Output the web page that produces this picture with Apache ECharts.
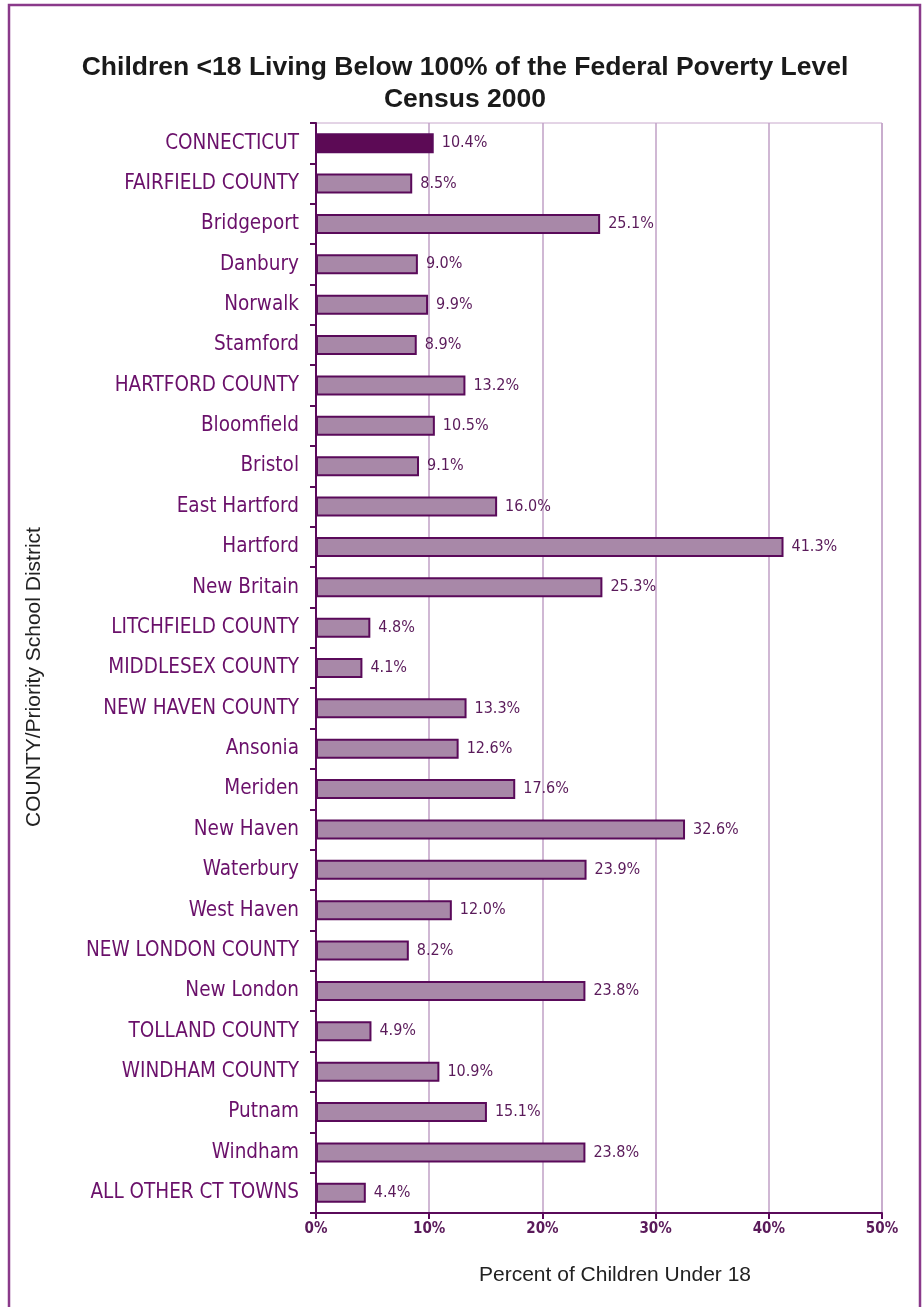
<!DOCTYPE html>
<html>
<head>
<meta charset="utf-8">
<script src="https://cdn.jsdelivr.net/npm/echarts@6/dist/echarts.min.js"></script>
<style>html,body{margin:0;padding:0;background:#fff;}#c{width:923px;height:1307px;}</style>
</head>
<body>
<div id="c"></div>
<script>
const categories = ["CONNECTICUT","FAIRFIELD COUNTY","Bridgeport","Danbury","Norwalk","Stamford","HARTFORD COUNTY","Bloomfield","Bristol","East Hartford","Hartford","New Britain","LITCHFIELD COUNTY","MIDDLESEX COUNTY","NEW HAVEN COUNTY","Ansonia","Meriden","New Haven","Waterbury","West Haven","NEW LONDON COUNTY","New London","TOLLAND COUNTY","WINDHAM COUNTY","Putnam","Windham","ALL OTHER CT TOWNS"];
const values = [10.4,8.5,25.1,9.0,9.9,8.9,13.2,10.5,9.1,16.0,41.3,25.3,4.8,4.1,13.3,12.6,17.6,32.6,23.9,12.0,8.2,23.8,4.9,10.9,15.1,23.8,4.4];
const xTicks = [0,10,20,30,40,50];
const highlight = "CONNECTICUT";

const labelFont = '"DejaVu Sans Condensed", "Liberation Sans Narrow", "Liberation Sans", sans-serif';
const textFont = '"Liberation Sans", Arial, sans-serif';
const chart = echarts.init(document.getElementById('c'), null, {renderer:'canvas'});
chart.setOption({
  animation:false,
  backgroundColor:'#fff',
  title:{
    text:'Children <18 Living Below 100% of the Federal Poverty Level\nCensus 2000',
    left:460, textAlign:'center', top:47,
    textStyle:{fontFamily:textFont, fontWeight:'bold', fontSize:26.5, lineHeight:32, color:'#1a1a1a'}
  },
  grid:{left:316, right:41, top:123, bottom:94, show:true, borderColor:'#c8a8cc', borderWidth:1},
  xAxis:{
    type:'value', min:xTicks[0], max:xTicks[xTicks.length-1], interval:10,
    axisLine:{show:true, lineStyle:{color:'#5a0a5a', width:2}},
    axisTick:{show:true, length:6, lineStyle:{color:'#5a0a5a', width:2}},
    axisLabel:{formatter:'{value}%', fontFamily:labelFont, fontSize:15, fontWeight:'bold', color:'#5a1a5a', margin:9},
    splitLine:{show:true, lineStyle:{color:'#c0a0c6', width:1.5}}
  },
  yAxis:{
    type:'category', data:categories, inverse:true,
    axisLine:{show:true, lineStyle:{color:'#5a0a5a', width:2}},
    axisTick:{show:true, length:6, lineStyle:{color:'#5a0a5a', width:2}},
    axisLabel:{fontFamily:labelFont, fontSize:20.5, color:'#6a106a', margin:17},
    splitLine:{show:false}
  },
  series:[{
    type:'bar', barWidth:20,
    data:values.map((v,i)=>({value:v, itemStyle: categories[i]===highlight ? {color:'#5c0a55', borderColor:'#5a0a5a', borderWidth:2} : {color:'#a888a8', borderColor:'#5a0a5a', borderWidth:2}})),
    label:{show:true, position:'right', distance:8, formatter:p=>p.value.toFixed(1)+'%', fontFamily:labelFont, fontSize:16, color:'#5a1a5a'}
  }],
  graphic:[
    {type:'rect', shape:{x:9, y:5, width:911, height:1320}, style:{fill:'none', stroke:'#8a3a8a', lineWidth:2.5}, silent:true},
    {type:'text', x:34, y:677, rotation:Math.PI/2, style:{text:'COUNTY/Priority School District', fontFamily:textFont, fontSize:21, fill:'#222', align:'center', verticalAlign:'middle'}},
    {type:'text', x:615, y:1275, style:{text:'Percent of Children Under 18', fontFamily:textFont, fontSize:21, fill:'#222', align:'center', verticalAlign:'middle'}}
  ]
});
</script>
</body>
</html>
